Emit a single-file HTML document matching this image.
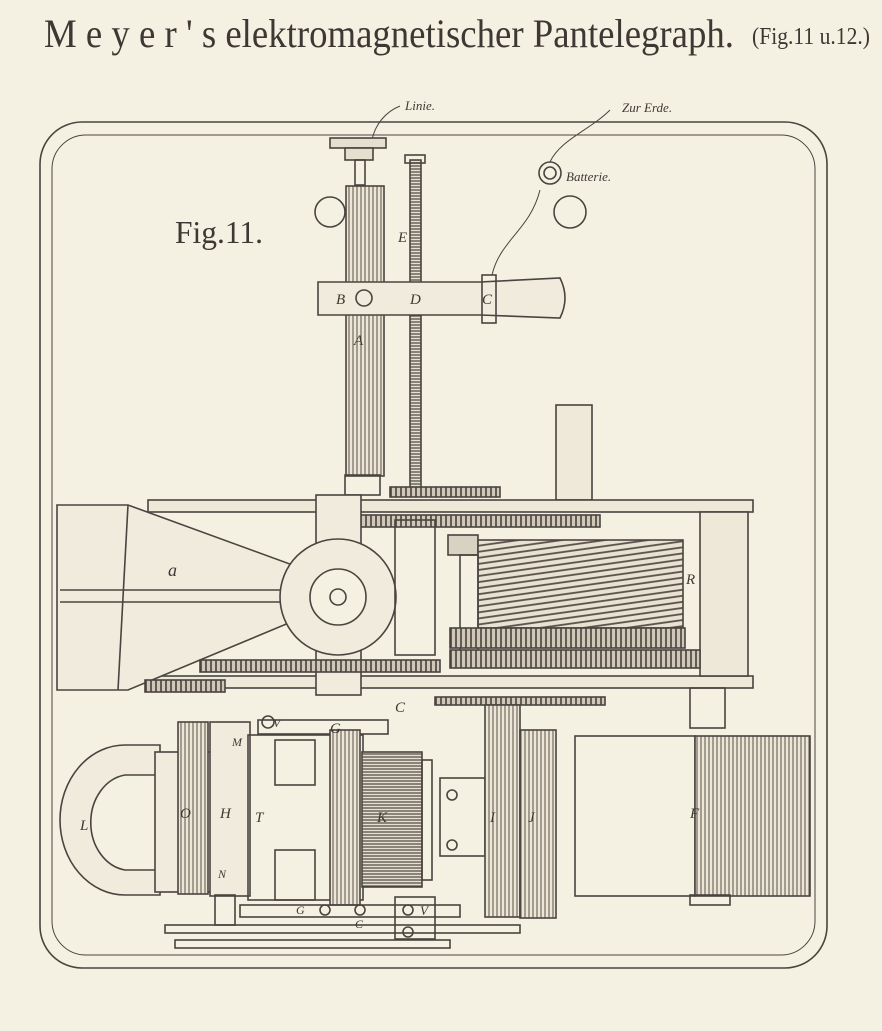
<!DOCTYPE html>
<html><head><meta charset="utf-8"><style>
html,body{margin:0;padding:0;background:#f5f1e2;}
svg{display:block}
text{font-family:"Liberation Serif",serif;fill:#3e3834}
</style></head><body>
<svg width="882" height="1031" viewBox="0 0 882 1031" xmlns="http://www.w3.org/2000/svg">
<defs>
<pattern id="coil" width="6" height="6" patternUnits="userSpaceOnUse" patternTransform="rotate(-8)">
<rect width="6" height="6" fill="#e8e2d2"/><line x1="0" y1="1" x2="6" y2="1" stroke="#5a4f49" stroke-width="1.8"/></pattern>
<pattern id="vcoil" width="4" height="6" patternUnits="userSpaceOnUse">
<rect width="4" height="6" fill="#ece6d6"/><line x1="1" y1="0" x2="1" y2="6" stroke="#5a4f49" stroke-width="1"/></pattern>
<pattern id="hcoil" width="6" height="3" patternUnits="userSpaceOnUse">
<rect width="6" height="3" fill="#e6e0d0"/><line x1="0" y1="1" x2="6" y2="1" stroke="#4e4540" stroke-width="1.2"/></pattern>
<pattern id="teeth" width="5" height="8" patternUnits="userSpaceOnUse">
<rect width="5" height="8" fill="#cfc8b8"/><line x1="1" y1="0" x2="1" y2="8" stroke="#3e3834" stroke-width="1.5"/></pattern>
</defs>
<rect width="882" height="1031" fill="#f5f1e2"/>
<text x="44" y="47" font-size="40" textLength="690" lengthAdjust="spacingAndGlyphs" fill="#4a423d">M e y e r ' s  elektromagnetischer Pantelegraph.</text>
<text x="752" y="44" font-size="24" textLength="118" lengthAdjust="spacingAndGlyphs" fill="#8a8078">(Fig.11 u.12.)</text>

<g fill="none" stroke="#4a4440" stroke-width="1.6">
<rect x="40" y="122" width="787" height="846" rx="42"/>
<rect x="52" y="135" width="763" height="820" rx="34" stroke-width="1"/>
<circle cx="330" cy="212" r="15"/><circle cx="570" cy="212" r="16"/>
<circle cx="550" cy="173" r="11"/><circle cx="550" cy="173" r="6"/>
<path d="M550 162 C560 140 590 130 610 110" stroke-width="1"/>
<path d="M492 275 C500 240 530 230 540 190" stroke-width="1"/>
<path d="M372 140 C375 125 385 112 400 106" stroke-width="1"/>
<rect x="330" y="138" width="56" height="10" fill="#e5dfcf"/>
<rect x="345" y="148" width="28" height="12" fill="#e5dfcf"/>
<rect x="355" y="160" width="10" height="25"/>
<rect x="346" y="186" width="38" height="290" fill="url(#vcoil)"/>
<rect x="410" y="160" width="11" height="330" fill="url(#hcoil)"/>
<rect x="405" y="155" width="20" height="8"/>
<path d="M318 282 H480 L560 278 Q570 298 560 318 L480 315 H318 Z" fill="#f0ebdc"/>
<circle cx="364" cy="298" r="8"/>
<rect x="482" y="275" width="14" height="48"/>
<rect x="556" y="405" width="36" height="95" fill="#efe9da"/>
<rect x="345" y="475" width="35" height="20"/>
<rect x="390" y="487" width="110" height="10" fill="url(#teeth)"/>
<rect x="148" y="500" width="605" height="12" fill="#eee8d9"/>
<rect x="148" y="676" width="605" height="12" fill="#eee8d9"/>
<rect x="700" y="512" width="48" height="164" fill="#eee8d9"/>
<rect x="360" y="515" width="240" height="12" fill="url(#teeth)"/>
<path d="M57 505 H128 L320 575 V610 L128 690 H57 Z" fill="#f0ebdc"/>
<path d="M128 505 L118 690"/>
<path d="M60 590 H320 M60 602 H320"/>
<rect x="316" y="495" width="45" height="200" fill="#f0ebdc"/>
<circle cx="338" cy="597" r="58" fill="#f0ebdc"/>
<circle cx="338" cy="597" r="28" fill="#f5f1e2"/><circle cx="338" cy="597" r="8"/>
<rect x="395" y="520" width="40" height="135"/>
<rect x="448" y="535" width="30" height="20" fill="#d8d2c2"/>
<rect x="478" y="540" width="205" height="88" fill="url(#coil)"/>
<rect x="460" y="555" width="18" height="110"/>
<rect x="450" y="628" width="235" height="20" fill="url(#teeth)"/>
<rect x="450" y="650" width="250" height="18" fill="url(#teeth)"/>
<rect x="200" y="660" width="240" height="12" fill="url(#teeth)"/>
<rect x="145" y="680" width="80" height="12" fill="url(#teeth)"/>
<rect x="435" y="697" width="170" height="8" fill="url(#teeth)"/>
<rect x="690" y="688" width="35" height="40"/>
<path d="M160 745 H125 A65 75 0 0 0 125 895 H160 V870 H125 A40 48 0 0 1 125 775 H160 Z" fill="#f0ebdc"/>
<rect x="155" y="752" width="60" height="140" fill="#f0ebdc"/>
<rect x="178" y="722" width="30" height="172" fill="url(#vcoil)"/>
<rect x="210" y="722" width="40" height="174" fill="#f0ebdc"/>
<rect x="248" y="735" width="115" height="165"/>
<rect x="275" y="740" width="40" height="45"/><rect x="275" y="850" width="40" height="50"/>
<rect x="258" y="720" width="130" height="14"/>
<rect x="330" y="730" width="30" height="175" fill="url(#vcoil)"/>
<rect x="362" y="752" width="60" height="135" fill="url(#hcoil)"/>
<rect x="422" y="760" width="10" height="120"/>
<rect x="440" y="778" width="45" height="78"/>
<circle cx="452" cy="795" r="5"/><circle cx="452" cy="845" r="5"/>
<rect x="485" y="705" width="35" height="212" fill="url(#vcoil)"/>
<rect x="520" y="730" width="36" height="188" fill="url(#vcoil)"/>
<rect x="575" y="736" width="120" height="160" fill="#f5f1e2"/>
<rect x="695" y="736" width="115" height="160" fill="url(#vcoil)"/>
<rect x="690" y="895" width="40" height="10"/>
<rect x="240" y="905" width="220" height="12"/>
<rect x="395" y="897" width="40" height="42"/>
<circle cx="408" cy="910" r="5"/><circle cx="408" cy="932" r="5"/>
<circle cx="268" cy="722" r="6"/><circle cx="325" cy="910" r="5"/><circle cx="360" cy="910" r="5"/>
<rect x="165" y="925" width="355" height="8"/>
<rect x="175" y="940" width="275" height="8"/>
<rect x="215" y="895" width="20" height="30"/>
</g>
<g font-style="italic" font-size="15">
<text x="405" y="110" font-size="13">Linie.</text>
<text x="622" y="112" font-size="13">Zur Erde.</text>
<text x="566" y="181" font-size="13">Batterie.</text>
<text x="398" y="242">E</text>
<text x="336" y="304">B</text>
<text x="410" y="304">D</text>
<text x="482" y="304">C</text>
<text x="354" y="345">A</text>
<text x="168" y="576" font-size="18">a</text>
<text x="686" y="584">R</text>
<text x="395" y="712">C</text>
<text x="330" y="733">G</text>
<text x="273" y="727" font-size="12">V</text>
<text x="232" y="746" font-size="12">M</text>
<text x="80" y="830">L</text>
<text x="180" y="818">O</text>
<text x="220" y="818">H</text>
<text x="255" y="822">T</text>
<text x="377" y="822">K</text>
<text x="490" y="822">I</text>
<text x="528" y="822">J</text>
<text x="690" y="818">F</text>
<text x="218" y="878" font-size="12">N</text>
<text x="296" y="914" font-size="12">G</text>
<text x="355" y="928" font-size="12">C</text>
<text x="420" y="915" font-size="13">V</text>
</g>
<text x="175" y="243" font-size="32" textLength="88" lengthAdjust="spacingAndGlyphs" fill="#3e3834">Fig.11.</text>
</svg>
</body></html>
